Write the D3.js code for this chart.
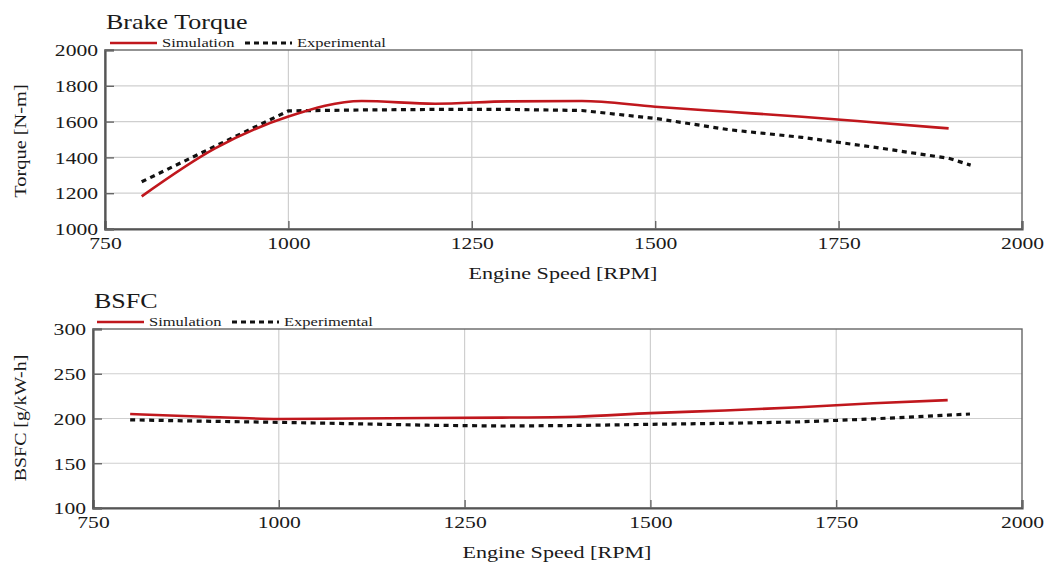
<!DOCTYPE html>
<html>
<head>
<meta charset="utf-8">
<script src="https://cdn.jsdelivr.net/npm/d3@7"></script>
<style>
  body { margin: 0; background: #fff; }
  text { font-family: "Liberation Serif", "Times New Roman", serif; fill: #1a1a1a; }
</style>
</head>
<body>
<svg id="chart" width="1050" height="562"></svg>
<script>
// engine speed axis, shared by both panels
const xTicks = [750, 1000, 1250, 1500, 1750, 2000];
const seriesNames = ["Simulation", "Experimental"];

// brake torque [N-m]
const torqueTicks = [1000, 1200, 1400, 1600, 1800, 2000];
const speedSimTq = [800, 900, 1000, 1100, 1200, 1300, 1400, 1500, 1600, 1700, 1800, 1900];
const torqueSim  = [1182, 1450, 1628, 1715, 1700, 1713, 1715, 1683, 1655, 1627, 1595, 1562];
const speedExpTq = [800, 900, 1000, 1100, 1200, 1300, 1400, 1500, 1600, 1700, 1800, 1900, 1930];
const torqueExp  = [1264, 1462, 1660, 1665, 1668, 1668, 1662, 1618, 1555, 1512, 1456, 1395, 1357];

// BSFC [g/kW-h]
const bsfcTicks = [100, 150, 200, 250, 300];
const speedSimBsfc = [800, 900, 1000, 1100, 1200, 1300, 1400, 1500, 1600, 1700, 1800, 1900];
const bsfcSim      = [205, 202, 199.5, 200, 200.5, 201, 202, 206, 209, 212.5, 217, 220.5];
const speedExpBsfc = [800, 900, 1000, 1100, 1200, 1300, 1400, 1500, 1600, 1700, 1800, 1900, 1930];
const bsfcExp      = [198.5, 197, 195.7, 194.2, 192.5, 191.6, 192.2, 193.5, 194.6, 196.2, 199.6, 203.7, 205];

const svg = d3.select("#chart");
const SX = 1.27;  // text in the picture is stretched sideways

function drawPanel(p) {
  const x = d3.scaleLinear().domain([750, 2000]).range([p.left, p.right]);
  const y = d3.scaleLinear().domain(p.yDomain).range([p.bottom, p.top]);
  const g = svg.append("g");

  // grid
  g.append("g").selectAll("line.gx")
    .data(xTicks.slice(1, -1))
    .enter().append("line")
    .attr("x1", d => x(d)).attr("x2", d => x(d))
    .attr("y1", p.top).attr("y2", p.bottom)
    .attr("stroke", "#cfcfcf").attr("stroke-width", 1.2);
  g.append("g").selectAll("line.gy")
    .data(p.yTicks.slice(1, -1))
    .enter().append("line")
    .attr("x1", p.left).attr("x2", p.right)
    .attr("y1", d => y(d)).attr("y2", d => y(d))
    .attr("stroke", "#cfcfcf").attr("stroke-width", 1.2);

  // frame
  g.append("rect")
    .attr("x", p.left).attr("y", p.top)
    .attr("width", p.right - p.left).attr("height", p.bottom - p.top)
    .attr("fill", "none").attr("stroke", "#666").attr("stroke-width", 1.4);

  // axes
  const ax = g.append("g")
    .attr("transform", `translate(0,${p.bottom})`)
    .call(d3.axisBottom(x).tickValues(xTicks).tickSize(-8).tickPadding(0).tickFormat(d3.format("d")));
  const ay = g.append("g")
    .attr("transform", `translate(${p.left},0)`)
    .call(d3.axisLeft(y).tickValues(p.yTicks).tickSize(-9).tickPadding(0).tickFormat(d3.format("d")));
  [ax, ay].forEach(a => {
    a.attr("font-family", null).attr("font-size", null);
    a.select(".domain").attr("stroke", "#555").attr("stroke-width", 2.2);
    a.selectAll(".tick line").attr("stroke", "#666").attr("stroke-width", 1.4);
    a.selectAll(".tick text").attr("fill", "#1a1a1a").style("font-size", "17px");
  });
  ax.selectAll(".tick text").attr("y", 0).attr("dy", "0.71em")
    .attr("transform", `translate(0,8) scale(${SX},1)`);
  ay.selectAll(".tick text").attr("x", 0).attr("dy", "0.34em")
    .attr("transform", `translate(-7,0) scale(${SX},1)`);

  // series
  const simLine = d3.line()
    .x(d => x(d[0])).y(d => y(d[1]))
    .curve(d3.curveMonotoneX);
  const expLine = d3.line()
    .x(d => x(d[0])).y(d => y(d[1]));
  g.append("path")
    .datum(p.expX.map((s, i) => [s, p.expY[i]]))
    .attr("d", expLine).attr("fill", "none")
    .attr("stroke", "#111").attr("stroke-width", 3.2)
    .attr("stroke-dasharray", "5,4.5");
  g.append("path")
    .datum(p.simX.map((s, i) => [s, p.simY[i]]))
    .attr("d", simLine).attr("fill", "none")
    .attr("stroke", "#c0171d").attr("stroke-width", 2.6);

  // title
  g.append("text")
    .attr("transform", `translate(${p.left + 1},${p.top - 21}) scale(1.24,1)`)
    .style("font-size", "21px")
    .text(p.title);

  // legend
  const ly = p.top - 7;
  const leg = g.append("g").attr("transform", `translate(${p.left + p.legendDx},${ly})`);
  const items = [
    { name: seriesNames[0], x0: 0, color: "#c0171d", dash: null, w: 2.6 },
    { name: seriesNames[1], x0: p.legendGap, color: "#111", dash: "5,4", w: 3 }
  ];
  items.forEach(it => {
    leg.append("line")
      .attr("x1", it.x0).attr("x2", it.x0 + 47)
      .attr("y1", 0).attr("y2", 0)
      .attr("stroke", it.color).attr("stroke-width", it.w)
      .attr("stroke-dasharray", it.dash);
    leg.append("text")
      .attr("transform", `translate(${it.x0 + 52},4) scale(${SX},1)`)
      .style("font-size", "13px")
      .text(it.name);
  });

  // axis titles
  g.append("text")
    .attr("transform", `translate(${p.xTitleX},${p.bottom + 50}) scale(1.3,1)`)
    .attr("text-anchor", "middle")
    .style("font-size", "17px")
    .text("Engine Speed [RPM]");
  g.append("text")
    .attr("transform", `translate(26,${p.yTitleY}) rotate(-90) scale(${p.yTitleS},1)`)
    .attr("text-anchor", "middle")
    .style("font-size", "17px")
    .text(p.yTitle);
}

drawPanel({
  title: "Brake Torque", yTitle: "Torque [N-m]", yTitleY: 141, yTitleS: 1.2,
  left: 105, right: 1022, top: 50, bottom: 229, xTitleX: 563,
  legendDx: 5, legendGap: 135,
  yDomain: [1000, 2000], yTicks: torqueTicks,
  simX: speedSimTq, simY: torqueSim, expX: speedExpTq, expY: torqueExp
});

drawPanel({
  title: "BSFC", yTitle: "BSFC [g/kW-h]", yTitleY: 418, yTitleS: 1.17,
  left: 93, right: 1022, top: 329, bottom: 508, xTitleX: 557,
  legendDx: 4, legendGap: 135,
  yDomain: [100, 300], yTicks: bsfcTicks,
  simX: speedSimBsfc, simY: bsfcSim, expX: speedExpBsfc, expY: bsfcExp
});
</script>
</body>
</html>
